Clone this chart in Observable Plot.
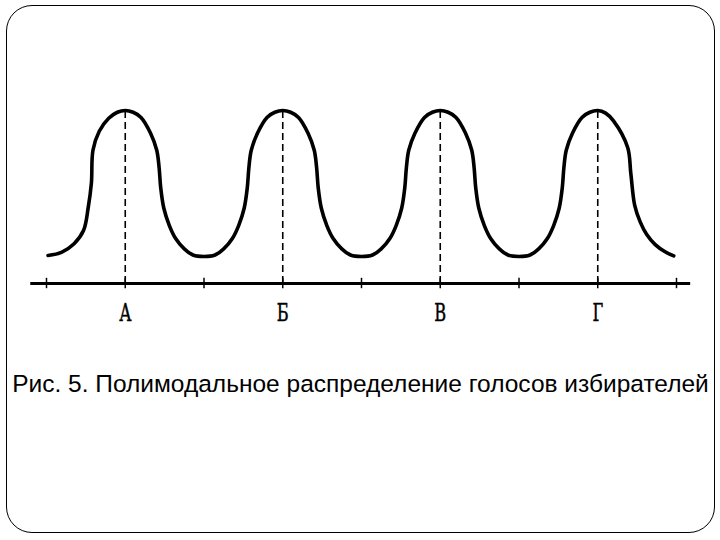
<!DOCTYPE html>
<html>
<head>
<meta charset="utf-8">
<script src="https://cdn.jsdelivr.net/npm/d3@7"></script>
<script src="https://cdn.jsdelivr.net/npm/@observablehq/plot@0.6"></script>
<style>
  html, body { margin: 0; padding: 0; background: #fff; }
  #frame { position: absolute; left: 6px; top: 5px; width: 709px; height: 528px; box-sizing: border-box;
           border: 1.5px solid #000; border-radius: 26px; }
  #chart { position: absolute; left: 0; top: 0; }
  #cap { position: absolute; left: 0; top: 372px; width: 721px; text-align: center; line-height: 1;
         font-family: "Liberation Sans", Arial, sans-serif; font-size: 24.5px; color: #000; white-space: nowrap; }
</style>
</head>
<body>
<div id="frame"></div>
<div id="chart"></div>
<div id="cap">Рис. 5. Полимодальное распределение голосов избирателей</div>
<script>
// Curve samples (x in axis tick units, y in relative height)
const curveX = [
  0.02, 0.19, 0.35, 0.47, 0.53, 0.57, 0.59, 0.67, 0.79, 0.90, 1.0,
  1.10, 1.20, 1.32, 1.40, 1.43, 1.45, 1.49, 1.56, 1.64, 1.75, 1.86, 2.0,
  2.14, 2.25, 2.36, 2.44, 2.51, 2.55, 2.57, 2.60, 2.68, 2.80, 2.90, 3.0,
  3.10, 3.20, 3.32, 3.40, 3.43, 3.45, 3.49, 3.56, 3.64, 3.75, 3.86, 4.0,
  4.14, 4.25, 4.36, 4.44, 4.51, 4.55, 4.57, 4.60, 4.68, 4.80, 4.90, 5.0,
  5.10, 5.20, 5.32, 5.40, 5.43, 5.45, 5.49, 5.56, 5.64, 5.75, 5.86, 6.0,
  6.14, 6.25, 6.36, 6.44, 6.51, 6.55, 6.57, 6.60, 6.68, 6.80, 6.90, 7.0,
  7.10, 7.20, 7.38, 7.42, 7.47, 7.54, 7.62, 7.73, 7.85, 7.965
];
const curveY = [
  1.62, 1.8, 2.3, 3.06, 4.4, 5.8, 7.7, 8.8, 9.55, 9.9, 10,
  9.9, 9.6, 8.7, 7.7, 6.7, 5.55, 4.35, 3.35, 2.6, 2.0, 1.65, 1.56,
  1.65, 2.0, 2.6, 3.35, 4.35, 5.55, 6.7, 7.7, 8.7, 9.6, 9.9, 10,
  9.9, 9.6, 8.7, 7.7, 6.7, 5.55, 4.35, 3.35, 2.6, 2.0, 1.65, 1.56,
  1.65, 2.0, 2.6, 3.35, 4.35, 5.55, 6.7, 7.7, 8.7, 9.6, 9.9, 10,
  9.9, 9.6, 8.7, 7.7, 6.7, 5.55, 4.35, 3.35, 2.6, 2.0, 1.65, 1.56,
  1.65, 2.0, 2.6, 3.35, 4.35, 5.55, 6.7, 7.7, 8.7, 9.6, 9.9, 10,
  9.85, 9.4, 7.86, 6.36, 4.5, 3.55, 2.85, 2.25, 1.85, 1.6
];
const peakPos = [1, 3, 5, 7];
const peakHeight = [10, 10, 10, 10];
const peakLabels = ["А", "Б", "В", "Г"];
const tickPos = [0, 1, 2, 3, 4, 5, 6, 7, 8];
const axisExtent = [-0.2, 8.18];

const curve = curveX.map((x, i) => ({x, y: curveY[i]}));
const peaks = peakPos.map((x, i) => ({x, h: peakHeight[i], label: peakLabels[i]}));

const chart = Plot.plot({
  width: 720,
  height: 345,
  margin: 0,
  style: {background: "transparent", overflow: "visible"},
  x: {domain: [0, 8], range: [46, 676], axis: null},
  y: {domain: [0, 10], range: [283, 110], axis: null},
  marks: [
    Plot.ruleY([0], {y: d => d, x1: () => axisExtent[0], x2: () => axisExtent[1], stroke: "#000", strokeWidth: 3}),
    Plot.ruleX(tickPos, {x: d => d, y1: () => -0.3, y2: () => 0.3, stroke: "#000", strokeWidth: 1.5}),
    Plot.ruleX(peaks, {x: "x", y1: () => 0, y2: "h", stroke: "#000", strokeWidth: 1.6, strokeDasharray: "7,4"}),
    Plot.line(curve, {x: "x", y: "y", curve: "catmull-rom", stroke: "#000", strokeWidth: 3.6, strokeLinejoin: "round", strokeLinecap: "round"}),
    Plot.text(peaks, {x: "x", y: () => -1.72, text: "label", fontSize: 25, fill: "#000",
      stroke: "#000", strokeWidth: 0.5,
      fontFamily: "'DejaVu Serif Condensed', 'DejaVu Serif', serif"})
  ]
});
// narrow the typewriter-like letter labels
d3.select(chart).selectAll("g[aria-label='text'] text").each(function () {
  const x = +this.getAttribute("x") || 0, y = +this.getAttribute("y") || 0;
  const t = this.getAttribute("transform") || "";
  this.setAttribute("transform", `${t} translate(${x},${y}) scale(0.72,1) translate(${-x},${-y})`);
});
document.getElementById("chart").appendChild(chart);
</script>
</body>
</html>
